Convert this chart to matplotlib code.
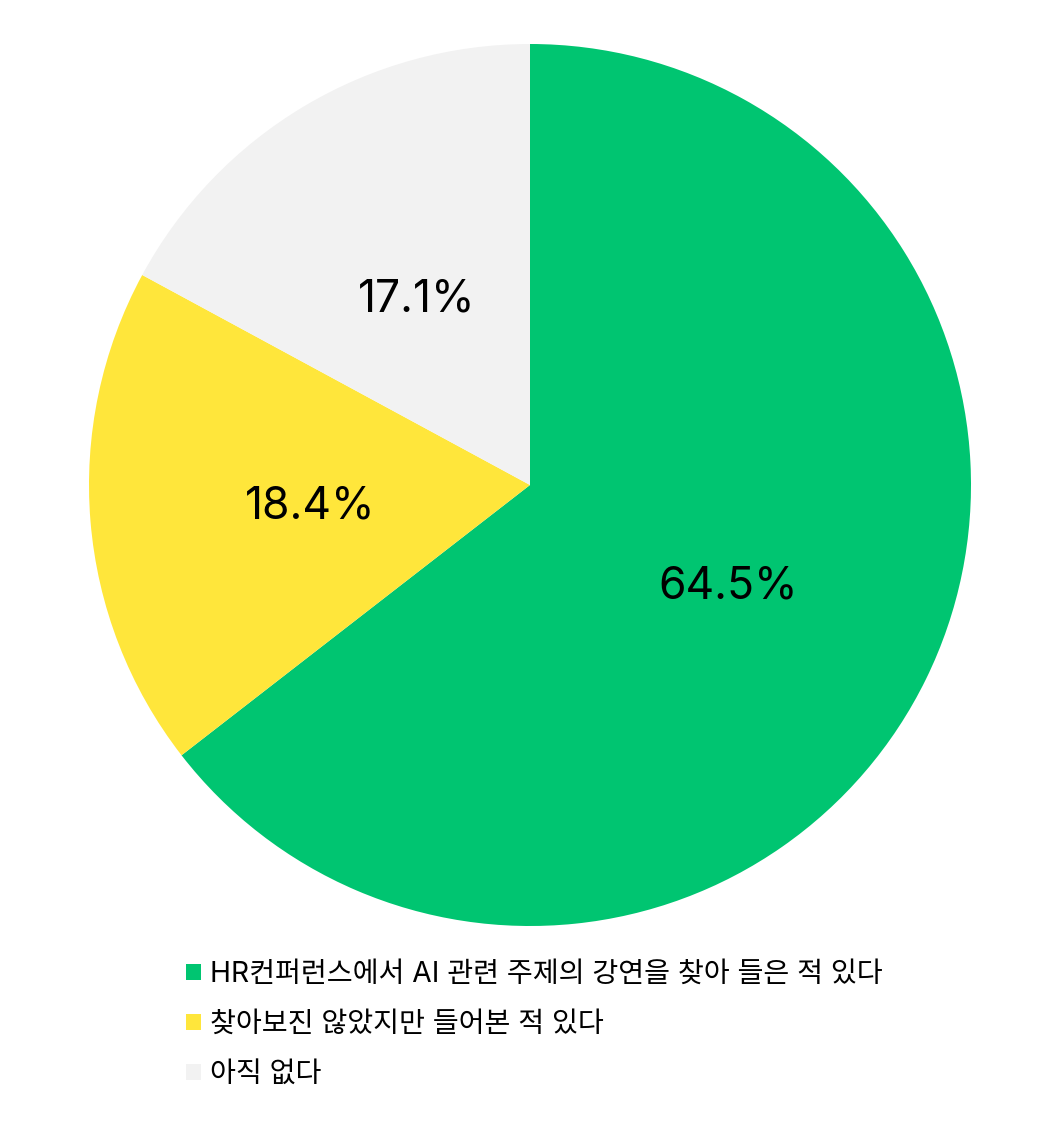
import matplotlib
matplotlib.use("Agg")
import matplotlib.pyplot as plt

plt.rcParams['font.family'] = ['Inter', 'Noto Sans CJK KR', 'DejaVu Sans']

# data
labels = ['HR컨퍼런스에서 AI 관련 주제의 강연을 찾아 들은 적 있다',
          '찾아보진 않았지만 들어본 적 있다',
          '아직 없다']
values = [64.5, 18.4, 17.1]
colors = ['#00C571', '#FFE63B', '#F2F2F2']

fig = plt.figure(figsize=(10.6, 11.3), dpi=100)
ax = fig.add_axes([0, 0, 1, 1])

wedges, texts, autotexts = ax.pie(
    values, colors=colors, startangle=90, counterclock=False,
    center=(530, 645), radius=441, autopct='%.1f%%', pctdistance=0.5,
    textprops={'fontsize': 32, 'color': 'black'},
    wedgeprops={'linewidth': 0}, frame=True)
# nudge the percent labels down a little
for t in autotexts:
    x, y = t.get_position()
    t.set_position((x, y - 4))

ax.set_xlim(0, 1060)
ax.set_ylim(0, 1130)
ax.set_aspect('equal')
ax.axis('off')

leg = fig.legend(wedges, labels, loc='upper left',
                 bbox_to_anchor=(186 / 1060, 1 - 961 / 1130),
                 frameon=False, fontsize=20.3, borderpad=0, borderaxespad=0,
                 handlelength=0.52, handleheight=0.52, handletextpad=0.32,
                 labelspacing=0.82)

fig.savefig('out.png', dpi=100)
